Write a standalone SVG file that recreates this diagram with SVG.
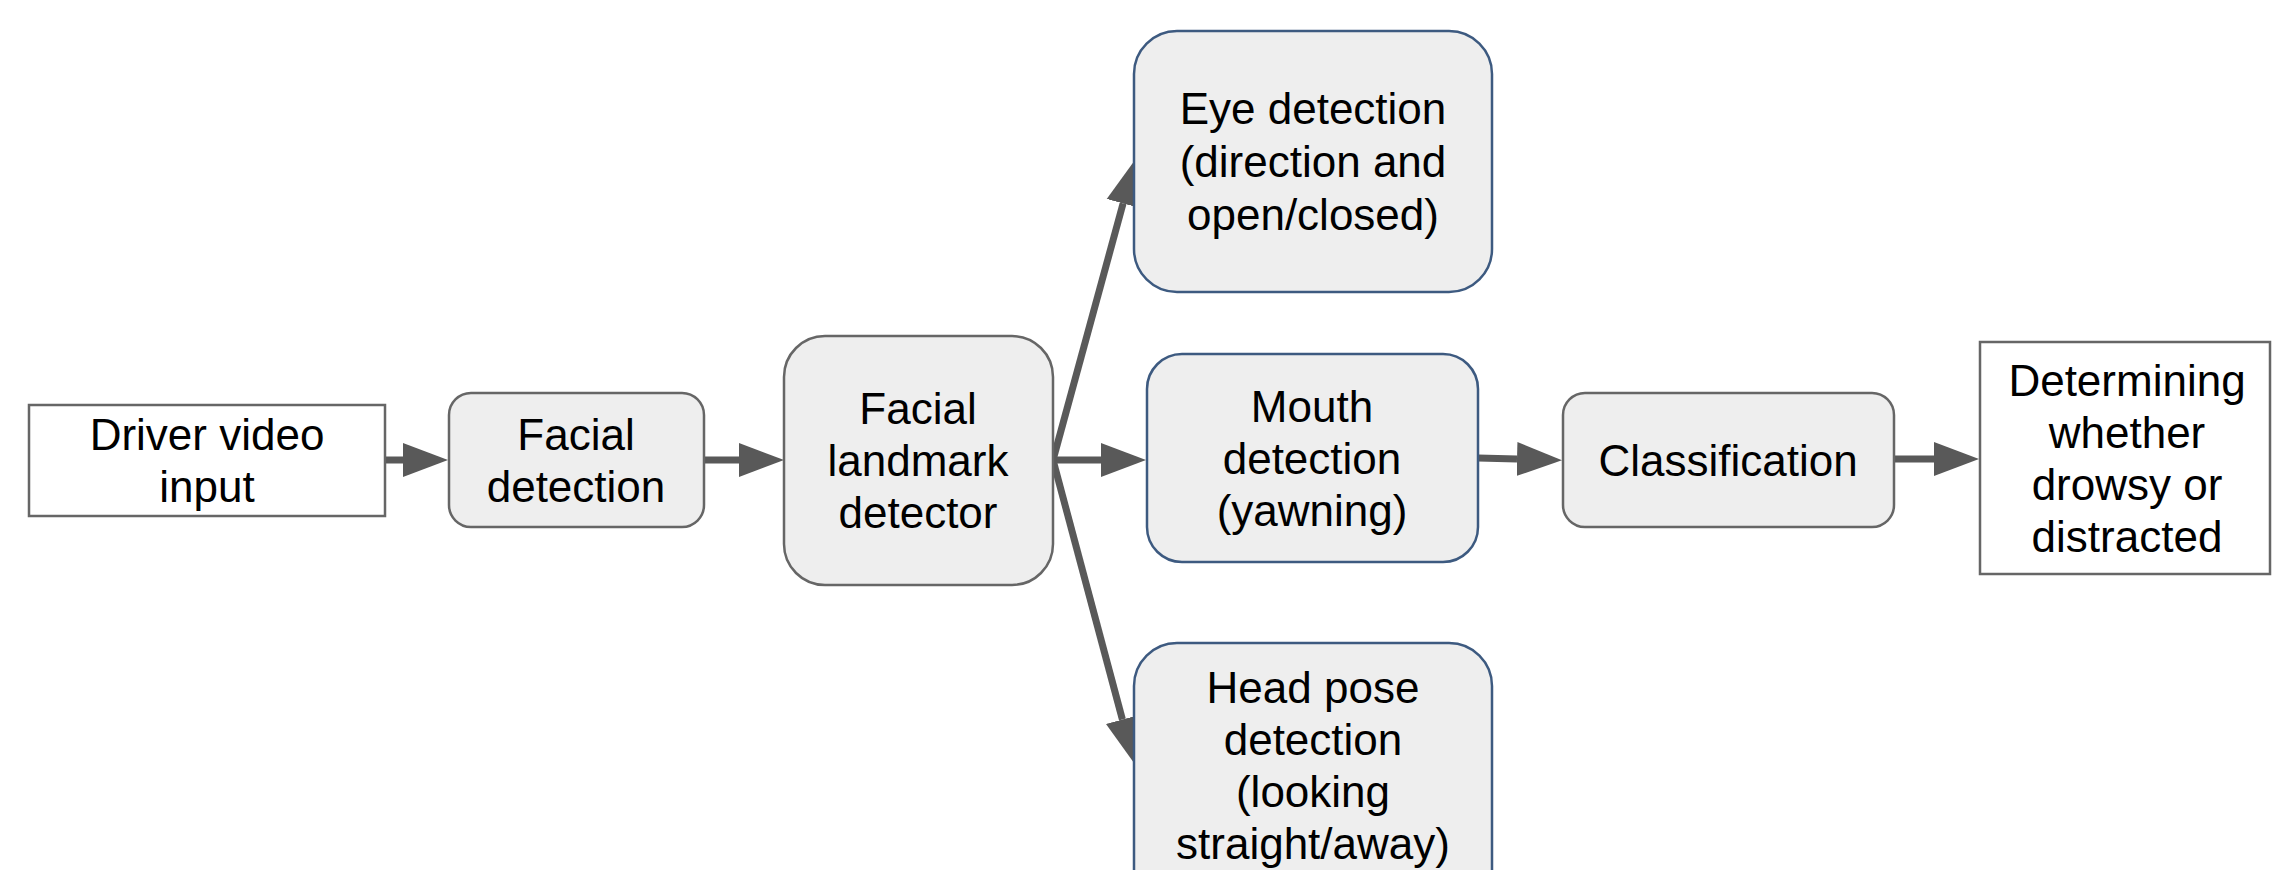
<svg xmlns="http://www.w3.org/2000/svg" width="2272" height="870" viewBox="0 0 2272 870">
<style>
  .plain{fill:#ffffff;stroke:#666666;stroke-width:2.5}
  .grey{fill:#eeeeee;stroke:#666666;stroke-width:2.5}
  .blue{fill:#eeeeee;stroke:#3d5a80;stroke-width:2.5}
  text{font-family:"Liberation Sans",Arial,sans-serif;font-size:44px;fill:#000000;text-anchor:middle}
  .conn{stroke:#595959;stroke-width:7;fill:none;marker-end:url(#ah)}
</style>
<defs>
  <marker id="ah" markerUnits="userSpaceOnUse" markerWidth="46" markerHeight="36" refX="0" refY="18" orient="auto" viewBox="0 0 46 36">
    <path d="M0,1 L45,18 L0,35 Z" fill="#595959"/>
  </marker>
</defs>
<rect width="2272" height="870" fill="#ffffff"/>
<g id="connectors">
  <line class="conn" x1="385" y1="460" x2="403" y2="460"/>
  <line class="conn" x1="704" y1="460" x2="739" y2="460"/>
  <line class="conn" x1="1053" y1="460" x2="1101" y2="460"/>
  <line class="conn" x1="1053" y1="460" x2="1123.1" y2="203.4"/>
  <line class="conn" x1="1053" y1="460" x2="1122.4" y2="719.5"/>
  <line class="conn" x1="1478" y1="458" x2="1517" y2="459"/>
  <line class="conn" x1="1894" y1="459" x2="1934" y2="459"/>
</g>
<g id="driver-video-input">
  <rect class="plain" x="29" y="405" width="356" height="111"/>
  <text x="207" y="450">Driver video</text>
  <text x="207" y="502">input</text>
</g>
<g id="facial-detection">
  <rect class="grey" x="449" y="393" width="255" height="134" rx="22"/>
  <text x="576" y="450">Facial</text>
  <text x="576" y="502">detection</text>
</g>
<g id="facial-landmark-detector">
  <rect class="grey" x="784" y="336" width="269" height="249" rx="41"/>
  <text x="918" y="424">Facial</text>
  <text x="918" y="476">landmark</text>
  <text x="918" y="528">detector</text>
</g>
<g id="eye-detection">
  <rect class="blue" x="1134" y="31" width="358" height="261" rx="43"/>
  <text x="1313" y="124">Eye detection</text>
  <text x="1313" y="177">(direction and</text>
  <text x="1313" y="230">open/closed)</text>
</g>
<g id="mouth-detection">
  <rect class="blue" x="1147" y="354" width="331" height="208" rx="35"/>
  <text x="1312" y="422">Mouth</text>
  <text x="1312" y="474">detection</text>
  <text x="1312" y="526">(yawning)</text>
</g>
<g id="head-pose-detection">
  <rect class="blue" x="1134" y="643" width="358" height="270" rx="43"/>
  <text x="1313" y="703">Head pose</text>
  <text x="1313" y="755">detection</text>
  <text x="1313" y="807">(looking</text>
  <text x="1313" y="859">straight/away)</text>
</g>
<g id="classification">
  <rect class="grey" x="1563" y="393" width="331" height="134" rx="22"/>
  <text x="1728" y="476">Classification</text>
</g>
<g id="determining">
  <rect class="plain" x="1980" y="342" width="290" height="232"/>
  <text x="2127" y="396">Determining</text>
  <text x="2127" y="448">whether</text>
  <text x="2127" y="500">drowsy or</text>
  <text x="2127" y="552">distracted</text>
</g>
</svg>
